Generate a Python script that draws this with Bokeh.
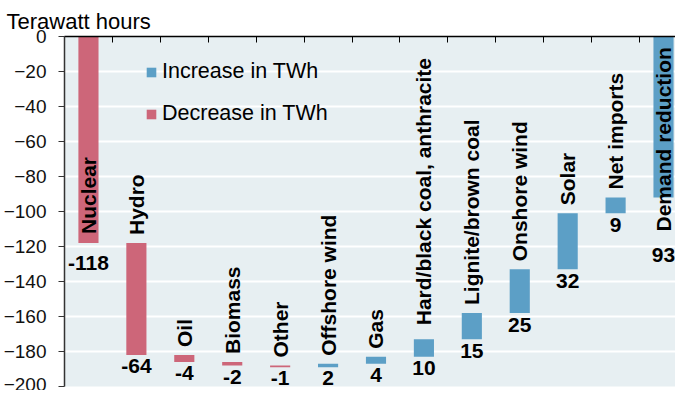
import numpy as np
from bokeh.plotting import figure
from bokeh.models import ColumnDataSource, Range1d, FixedTicker, Legend, LegendItem, Title
from bokeh.embed import file_html
from bokeh.resources import INLINE
from bokeh.core.properties import value

# ---- data -------------------------------------------------------------
categories = ["Nuclear", "Hydro", "Oil", "Biomass", "Other", "Offshore wind", "Gas",
              "Hard/black coal, anthracite", "Lignite/brown coal", "Onshore wind",
              "Solar", "Net imports", "Demand reduction"]
changes = [-118, -64, -4, -2, -1, 2, 4, 10, 15, 25, 32, 9, 93]
y_ticks = [0, -20, -40, -60, -80, -100, -120, -140, -160, -180, -200]
legend_labels = ["Increase in TWh", "Decrease in TWh"]

# ---- styling ----------------------------------------------------------
RED = "#cd6679"
BLUE = "#5c9fc6"
BG = "#e7eff2"
FONT = "Liberation Sans"

n = len(categories)
chg = np.array(changes, dtype=float)
end = np.cumsum(chg)
start = end - chg
top = np.maximum(start, end)
bottom = np.minimum(start, end)
xc = np.arange(n) + 0.5

# label placement rules (screen-pixel offsets)
cat_special = {"Nuclear": ("bottom", -9), "Demand reduction": ("bottom", 34),
               "Hard/black coal, anthracite": ("top", -14)}
val_special = {"Nuclear": 13, "Demand reduction": 50}

cat_y, cat_off, val_off = [], [], []
for i, c in enumerate(categories):
    if c in cat_special:
        which, off = cat_special[c]
        cat_y.append(bottom[i] if which == "bottom" else top[i])
        cat_off.append(off)
    else:
        cat_y.append(top[i])
        cat_off.append(-8)
    val_off.append(val_special.get(c, 5 if bottom[i] > -180 else 4))

inc = [i for i in range(n) if chg[i] > 0]
dec = [i for i in range(n) if chg[i] < 0]

src_inc = ColumnDataSource(dict(x=xc[inc], top=top[inc], bottom=bottom[inc]))
src_dec = ColumnDataSource(dict(x=xc[dec], top=top[dec], bottom=bottom[dec]))
src_lab = ColumnDataSource(dict(
    x=xc, cat=categories, cy=cat_y, coff=cat_off,
    vy=bottom, vtxt=[str(v) for v in changes], voff=val_off))

p = figure(width=675, height=390, output_backend="svg", toolbar_location=None,
           x_range=Range1d(0, 12.75), y_range=Range1d(-200, 0),
           x_axis_location="above",
           min_border_left=58, min_border_right=0, min_border_bottom=4, min_border_top=36)

p.background_fill_color = BG
p.border_fill_color = "white"
p.outline_line_color = None

p.add_layout(Title(text="Terawatt hours", align="left", offset=-58, standoff=6,
                   text_font_size="22px", text_font_style="normal",
                   text_font=FONT, text_color="#000000"), "above")

r_inc = p.vbar(x="x", top="top", bottom="bottom", width=0.42, source=src_inc,
               fill_color=BLUE, line_color=None)
r_dec = p.vbar(x="x", top="top", bottom="bottom", width=0.42, source=src_dec,
               fill_color=RED, line_color=None)

p.text(x="x", y="cy", text="cat", y_offset="coff", angle=np.pi / 2, source=src_lab,
       text_align="left", text_baseline="middle", text_font=value(FONT),
       text_font_size="21px", text_font_style="bold", text_color="#000000")
p.text(x="x", y="vy", text="vtxt", y_offset="voff", source=src_lab,
       text_align="center", text_baseline="top", text_font=value(FONT),
       text_font_size="21px", text_font_style="bold", text_color="#000000")

# axes
p.xaxis.ticker = FixedTicker(ticks=list(range(0, n + 1)))
p.xaxis.major_label_text_font_size = "0px"
p.xaxis.major_tick_in = 6
p.xaxis.major_tick_out = 0
p.xaxis.minor_tick_line_color = None
p.xaxis.axis_line_color = "#000000"
p.xaxis.axis_line_width = 1.5
p.xaxis.major_tick_line_color = "#000000"
p.xaxis.major_label_standoff = 0

p.yaxis.ticker = FixedTicker(ticks=y_ticks)
p.yaxis.major_tick_in = 0
p.yaxis.major_tick_out = 6
p.yaxis.minor_tick_line_color = None
p.yaxis.axis_line_color = "#333333"
p.yaxis.axis_line_width = 1.5
p.yaxis.major_tick_line_color = "#333333"
p.yaxis.major_label_text_font = FONT
p.yaxis.major_label_text_font_size = "19px"
p.yaxis.major_label_text_color = "#111111"
p.yaxis.major_label_standoff = 12

p.xgrid.grid_line_color = None
p.ygrid.grid_line_color = "white"
p.ygrid.grid_line_width = 2

legend = Legend(items=[LegendItem(label=legend_labels[0], renderers=[r_inc]),
                       LegendItem(label=legend_labels[1], renderers=[r_dec])],
                location=(81, 260), orientation="vertical",
                background_fill_alpha=0, border_line_color=None,
                label_text_font=FONT, label_text_font_size="21.5px",
                label_text_color="#000000", glyph_width=12, glyph_height=12,
                label_standoff=5, spacing=17, padding=0, margin=0)
p.add_layout(legend, "center")

open("out.html", "w").write(file_html(p, INLINE))
